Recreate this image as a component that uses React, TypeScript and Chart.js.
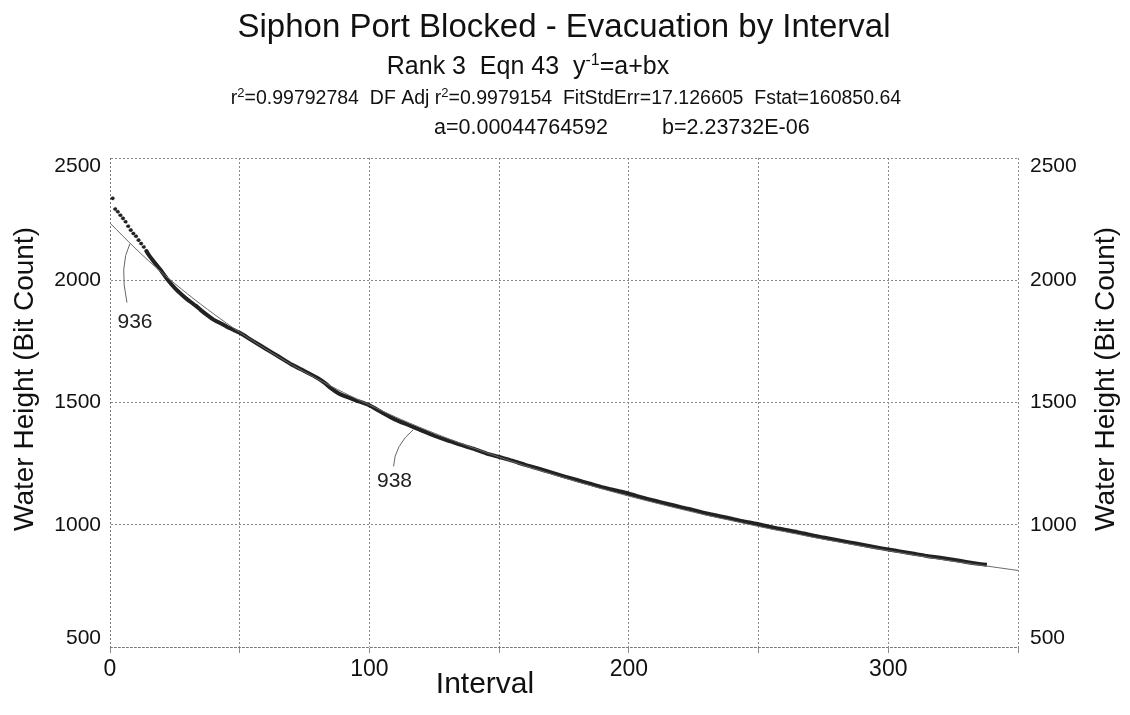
import React, { useEffect, useRef } from "react";
import { Chart, registerables } from "chart.js";

Chart.register(...registerables);

// ---- Data ----
const earlyX = [1, 2, 3, 4, 5, 6, 7, 8, 9, 10, 11, 12, 13, 14];
const earlyY = [2335, 2291, 2280, 2266, 2253, 2239, 2221, 2205, 2191, 2180, 2164, 2150, 2136, 2120];

const dataX = [14, 15, 17, 20, 22, 25, 28, 30, 33, 35, 38, 40, 43, 45, 48, 50, 55, 60, 65, 70, 75, 80, 83, 85, 88, 90, 95, 100, 105, 110, 115, 120, 125, 130, 135, 140, 145, 150, 155, 160, 165, 170, 175, 180, 185, 190, 195, 200, 205, 210, 215, 220, 225, 230, 235, 240, 245, 250, 255, 260, 265, 270, 275, 280, 285, 290, 295, 300, 305, 310, 315, 320, 325, 330, 335, 338];
const dataY = [2120, 2103, 2075, 2035, 2005, 1968, 1938, 1920, 1896, 1878, 1853, 1838, 1822, 1810, 1795, 1785, 1752, 1720, 1688, 1655, 1628, 1600, 1578, 1560, 1538, 1528, 1508, 1488, 1458, 1430, 1408, 1386, 1364, 1345, 1328, 1311, 1292, 1277, 1262, 1245, 1230, 1214, 1198, 1183, 1168, 1153, 1140, 1127, 1112, 1098, 1085, 1072, 1060, 1046, 1035, 1024, 1012, 1002, 990, 980, 970, 958, 948, 938, 928, 918, 908, 899, 890, 881, 872, 865, 857, 848, 840, 836];

const fitX = [0, 10, 20, 30, 40, 50, 60, 70, 80, 90, 100, 110, 120, 130, 140, 150, 160, 170, 180, 190, 200, 210, 220, 230, 240, 250, 260, 270, 280, 290, 300, 310, 320, 330, 340, 350];
const fitY = [2234, 2128, 2031, 1943, 1862, 1787, 1719, 1655, 1596, 1541, 1490, 1441, 1396, 1354, 1314, 1277, 1241, 1208, 1176, 1146, 1117, 1090, 1064, 1039, 1016, 993, 972, 951, 931, 912, 894, 876, 859, 843, 828, 813];

const yTickValues = [500, 1000, 1500, 2000, 2500];
const xTickLabelValues = [0, 100, 200, 300];

const annLabels = ["936", "938"];
const annX = [7.7, 117];
const annY = [2150, 1390];

const titleText = "Siphon Port Blocked - Evacuation by Interval";
const subtitleSegs = [
  { t: "Rank 3  Eqn 43  y" },
  { t: "-1", sup: true },
  { t: "=a+bx" },
];
const statsSegs = [
  { t: "r" },
  { t: "2", sup: true },
  { t: "=0.99792784  DF Adj r" },
  { t: "2", sup: true },
  { t: "=0.9979154  FitStdErr=17.126605  Fstat=160850.64" },
];
const coefA = "a=0.00044764592";
const coefB = "b=2.23732E-06";
const yTitle = "Water Height (Bit Count)";
const xTitle = "Interval";

const FONT = '"Liberation Sans", Arial, sans-serif';

type Seg = { t: string; sup?: boolean };

function richWidth(ctx: CanvasRenderingContext2D, segs: Seg[], size: number) {
  let w = 0;
  for (const s of segs) {
    ctx.font = `${s.sup ? Math.round(size * 0.65) : size}px ${FONT}`;
    w += ctx.measureText(s.t).width;
  }
  return w;
}

function drawRich(ctx: CanvasRenderingContext2D, segs: Seg[], cx: number, y: number, size: number) {
  const w = richWidth(ctx, segs, size);
  let x = cx - w / 2;
  ctx.textAlign = "left";
  ctx.textBaseline = "alphabetic";
  for (const s of segs) {
    const fs = s.sup ? Math.round(size * 0.65) : size;
    ctx.font = `${fs}px ${FONT}`;
    ctx.fillText(s.t, x, s.sup ? y - size * 0.38 : y);
    x += ctx.measureText(s.t).width;
  }
}

const annOffsets = [
  { cx: -11, cy: 22, ex: -3, ey: 59, tx: 5, ty: 79 },
  { cx: -19, cy: 16, ex: -20, ey: 37, tx: -19, ty: 52 },
];

const textPlugin = {
  id: "textPlugin",
  afterDraw(chart: any) {
    const ctx: CanvasRenderingContext2D = chart.ctx;
    const area = chart.chartArea;
    const ys = chart.scales.y;
    const xs = chart.scales.x;
    ctx.save();
    ctx.fillStyle = "#111";

    // header
    ctx.font = `33px ${FONT}`;
    ctx.textAlign = "center";
    ctx.textBaseline = "alphabetic";
    ctx.fillText(titleText, 564, 37);
    drawRich(ctx, subtitleSegs, 528, 74, 25);
    drawRich(ctx, statsSegs, 566, 104, 19.5);
    ctx.font = `21.5px ${FONT}`;
    ctx.textAlign = "left";
    ctx.fillText(coefA, 434, 134);
    ctx.fillText(coefB, 662, 134);

    // y tick labels on both sides
    ctx.font = `21px ${FONT}`;
    for (const v of yTickValues) {
      const py = ys.getPixelForValue(v);
      let base: CanvasTextBaseline = "middle";
      let yy = py;
      if (v === yTickValues[yTickValues.length - 1]) { base = "top"; yy = py - 2; }
      if (v === yTickValues[0]) { base = "bottom"; yy = py + 2; }
      ctx.textBaseline = base;
      ctx.textAlign = "right";
      ctx.fillText(String(v), area.left - 9, yy);
      ctx.textAlign = "left";
      ctx.fillText(String(v), area.right + 12, yy);
    }

    // axis titles
    ctx.font = `28px ${FONT}`;
    ctx.textAlign = "center";
    ctx.textBaseline = "middle";
    ctx.save();
    ctx.translate(25, 379);
    ctx.rotate(-Math.PI / 2);
    ctx.fillText(yTitle, 0, 0);
    ctx.restore();
    ctx.save();
    ctx.translate(1106, 379);
    ctx.rotate(-Math.PI / 2);
    ctx.fillText(yTitle, 0, 0);
    ctx.restore();
    ctx.font = `30px ${FONT}`;
    ctx.textBaseline = "alphabetic";
    ctx.fillText(xTitle, 485, 693);

    // annotations
    for (let i = 0; i < annLabels.length; i++) {
      const ax = xs.getPixelForValue(annX[i]);
      const ay = ys.getPixelForValue(annY[i]);
      const o = annOffsets[i];
      ctx.strokeStyle = "#666";
      ctx.lineWidth = 1;
      ctx.setLineDash([]);
      ctx.beginPath();
      ctx.moveTo(ax, ay);
      ctx.quadraticCurveTo(ax + o.cx, ay + o.cy, ax + o.ex, ay + o.ey);
      ctx.stroke();
      ctx.font = `21px ${FONT}`;
      ctx.textAlign = "center";
      ctx.textBaseline = "middle";
      ctx.fillStyle = "#222";
      ctx.fillText(annLabels[i], ax + o.tx, ay + o.ty);
    }
    ctx.restore();
  },
};

export default function App() {
  const ref = useRef<HTMLCanvasElement>(null);
  useEffect(() => {
    document.body.style.margin = "0";
    const canvas = ref.current!;
    const chart = new Chart(canvas, {
      type: "scatter",
      data: {
        datasets: [
          {
            label: "fit",
            data: fitX.map((x, i) => ({ x, y: fitY[i] })),
            showLine: true,
            borderColor: "#6a6a6a",
            borderWidth: 1,
            pointRadius: 0,
            tension: 0.3,
            order: 1,
          },
          {
            label: "data",
            data: dataX.map((x, i) => ({ x, y: dataY[i] })),
            showLine: true,
            borderColor: "#222",
            borderWidth: 4,
            pointRadius: 0,
            tension: 0.2,
            order: 2,
          },
          {
            label: "early",
            data: earlyX.map((x, i) => ({ x, y: earlyY[i] })),
            showLine: false,
            pointRadius: 1.8,
            pointBackgroundColor: "#222",
            pointBorderColor: "#222",
            pointBorderWidth: 0.5,
            order: 3,
          },
        ],
      },
      options: {
        responsive: false,
        animation: false,
        layout: { padding: { top: 158, right: 112, left: 0, bottom: 0 } },
        plugins: {
          legend: { display: false },
          title: { display: false },
          tooltip: { enabled: false },
        },
        scales: {
          x: {
            type: "linear",
            min: 0,
            max: 350,
            ticks: {
              stepSize: 50,
              font: { family: FONT, size: 23 },
              color: "#111",
              padding: 3,
              maxRotation: 0,
              callback: (v: any) => (xTickLabelValues.includes(Number(v)) ? String(v) : ""),
            },
            grid: {
              color: "#8a8a8a",
              lineWidth: 1,
              drawTicks: true,
              tickLength: 6,
              tickColor: "#8a8a8a",
            },
            border: { display: true, color: "#777", dash: [2, 2] },
            afterFit: (s: any) => { s.height = 68; },
          },
          y: {
            type: "linear",
            min: 500,
            max: 2500,
            ticks: { stepSize: 500, display: false },
            grid: {
              color: "#8a8a8a",
              lineWidth: 1,
              drawTicks: false,
            },
            border: { display: true, color: "#777", dash: [2, 2] },
            afterFit: (s: any) => { s.width = 110; },
          },
        },
      },
      plugins: [
        {
          id: "dashGrid",
          beforeDraw(c: any) {
            c.ctx.setLineDash([2, 2]);
          },
        },
        textPlugin,
      ],
    } as any);
    return () => chart.destroy();
  }, []);
  return (
    <div style={{ width: 1130, height: 715, background: "#fff" }}>
      <canvas ref={ref} width={1130} height={715} />
    </div>
  );
}
